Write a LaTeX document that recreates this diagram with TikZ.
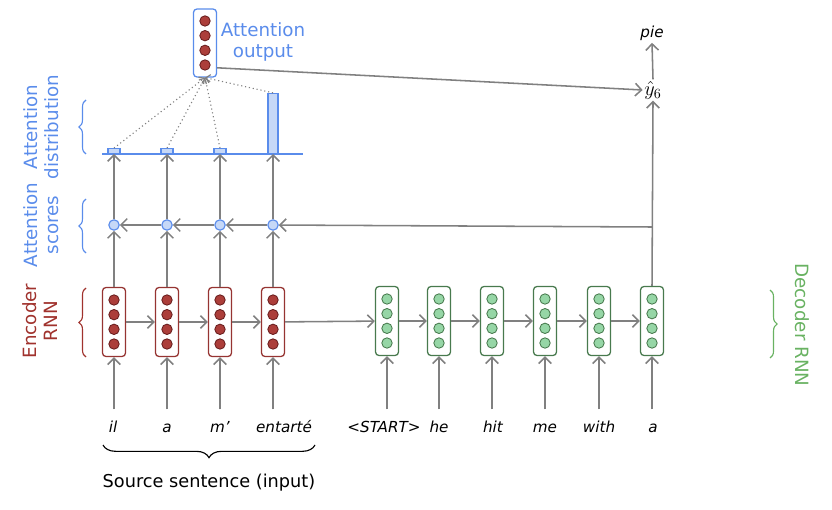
\documentclass[tikz,border=0pt]{standalone}
\usepackage{fontspec}
\setmainfont{DejaVu Sans}
\usetikzlibrary{arrows.meta,positioning,decorations.pathreplacing}

\definecolor{attblue}{RGB}{90,140,235}
\definecolor{barfill}{RGB}{198,216,247}
\definecolor{encred}{RGB}{160,50,45}
\definecolor{encborder}{RGB}{150,52,50}
\definecolor{encfill}{RGB}{172,62,58}
\definecolor{encdark}{RGB}{105,30,30}
\definecolor{decgreen}{RGB}{105,178,98}
\definecolor{decborder}{RGB}{72,122,78}
\definecolor{decfill}{RGB}{150,214,166}
\definecolor{arrgray}{RGB}{128,128,128}

\tikzset{
  arr/.style={draw=arrgray, line width=1.1pt, -{Straight Barb[length=4.5pt,width=9pt]}},
  dotarr/.style={draw=arrgray, line width=0.8pt, dotted, -{Straight Barb[length=3pt,width=6pt]}},
  enccell/.style={draw=encborder, fill=white, line width=0.9pt, rounded corners=2.5pt,
    minimum width=0.575cm, minimum height=1.725cm, inner sep=0pt},
  deccell/.style={enccell, draw=decborder},
  attcell/.style={enccell, draw=attblue},
  encneuron/.style={circle, draw=encdark, fill=encfill, line width=0.6pt, minimum size=0.26cm, inner sep=0pt},
  decneuron/.style={encneuron, draw=decborder, fill=decfill},
  score/.style={circle, draw=attblue, fill=barfill, line width=0.8pt, minimum size=0.26cm, inner sep=0pt},
  bar/.style={rectangle, draw=attblue, fill=barfill, line width=0.8pt, anchor=south,
    minimum width=0.3cm, minimum height=0.12cm, inner sep=0pt},
  word/.style={font=\fontsize{10.8}{12}\selectfont\itshape, anchor=base, text height=2ex, inner sep=1pt},
  sidelabel/.style={font=\fontsize{13}{14.5}\selectfont, align=center, rotate=90},
  sidebrace/.style={decorate, decoration={brace, amplitude=5pt}, line width=0.8pt},
}

% four neurons inside a cell
\newcommand{\neurons}[2]{%
  \foreach \dy in {-0.55,-0.183,0.183,0.55}
    \node[#2] at ([yshift=\dy cm]#1.center) {};
}

\begin{document}
\begin{tikzpicture}[x=0.025cm, y=-0.025cm]
  \useasboundingbox (0,0) rectangle (832,510);

  % encoder and decoder cells
  \foreach \n/\x in {1/114,2/167,3/220,4/273} {
    \node[enccell] (e\n) at (\x,322) {};
    \neurons{e\n}{encneuron}
  }
  \foreach \n/\x in {1/387,2/439,3/492,4/545,5/599,6/652} {
    \node[deccell] (d\n) at (\x,321) {};
    \neurons{d\n}{decneuron}
  }

  % input words
  \node[word] (w1) at (113,432) {il};
  \node[word] (w2) at (167,432) {a};
  \node[word] (w3) at (220,432) {m’};
  \node[word] (w4) at (284,432) {entarté};
  \node[word] (dw1) at (384,432) {<START>};
  \node[word] (dw2) at (439,432) {he};
  \node[word] (dw3) at (493,432) {hit};
  \node[word] (dw4) at (545,432) {me};
  \node[word] (dw5) at (599,432) {with};
  \node[word] (dw6) at (653,432) {a};

  \foreach \n in {1,...,4}
    \draw[arr, shorten <=4pt] (e\n |- w\n.north) -- (e\n.south);
  \foreach \n in {1,...,6}
    \draw[arr, shorten <=4pt] (d\n |- dw\n.north) -- (d\n.south);

  % recurrent connections
  \draw[arr] (e1) -- (e2);
  \draw[arr] (e2) -- (e3);
  \draw[arr] (e3) -- (e4);
  \draw[arr] (e4) -- (d1);
  \draw[arr] (d1) -- (d2);
  \draw[arr] (d2) -- (d3);
  \draw[arr] (d3) -- (d4);
  \draw[arr] (d4) -- (d5);
  \draw[arr] (d5) -- (d6);

  % attention scores and distribution
  \draw[attblue, line width=1pt] (102,154) -- (303,154);
  \foreach \n/\x in {1/114,2/167,3/220} {
    \node[score] (s\n) at (\x,225) {};
    \node[bar] (b\n) at (\x,154) {};
  }
  \node[score] (s4) at (273,225) {};
  \node[bar, minimum width=0.25cm, minimum height=1.5cm] (b4) at (273,154) {};

  \foreach \n in {1,...,4} {
    \draw[arr] (e\n.north) -- (s\n.south);
    \draw[arr] (s\n.north) -- (s\n |- b\n.south);
  }
  \coordinate (jn) at (652,227);
  \draw[arr] (jn) -- (s4);
  \draw[arr] (s4) -- (s3);
  \draw[arr] (s3) -- (s2);
  \draw[arr] (s2) -- (s1);

  % attention output
  \node[attcell, minimum height=1.7cm] (att) at (205,43) {};
  \neurons{att}{encneuron}
  \node[font=\fontsize{13}{15}\selectfont, text=attblue, align=center] (attlbl) at (263,42) {Attention\\output};
  \foreach \n in {1,...,4}
    \draw[dotarr] (b\n.north) -- (att.south);

  % decoder output
  \node[font=\Large, inner sep=1pt] (yhat) at (653,90) {$\hat{y}_6$};
  \node[word] (pie) at (652,38) {pie};
  \draw[arr] (d6.north) -- (yhat.south);
  \draw[arr] (yhat.north) -- (pie.south);
  \draw[arr] ([yshift=7pt]att.south east) -- (yhat.west);

  % side labels
  \node[sidelabel, text=encred] (enclbl) at (40,321) {Encoder\\RNN};
  \node[sidelabel, text=attblue] (sclbl) at (41,225) {Attention\\scores};
  \node[sidelabel, text=attblue] (distlbl) at (41,127) {Attention\\distribution};
  \node[sidelabel, text=decgreen, rotate=180] (declbl) at (802,325) {Decoder RNN};

  \draw[sidebrace, encred] (86,357) -- (86,288);
  \draw[sidebrace, attblue] (86,253) -- (86,199);
  \draw[sidebrace, attblue] (86,154) -- (86,100);
  \draw[sidebrace, decgreen] (770,290) -- (770,358);

  % source sentence
  \draw[decorate, decoration={brace, amplitude=9pt}, line width=0.8pt] (315,445) -- (103,445);
  \node[font=\fontsize{12.6}{14}\selectfont] (src) at (209,483) {Source sentence (input)};
\end{tikzpicture}
\end{document}
